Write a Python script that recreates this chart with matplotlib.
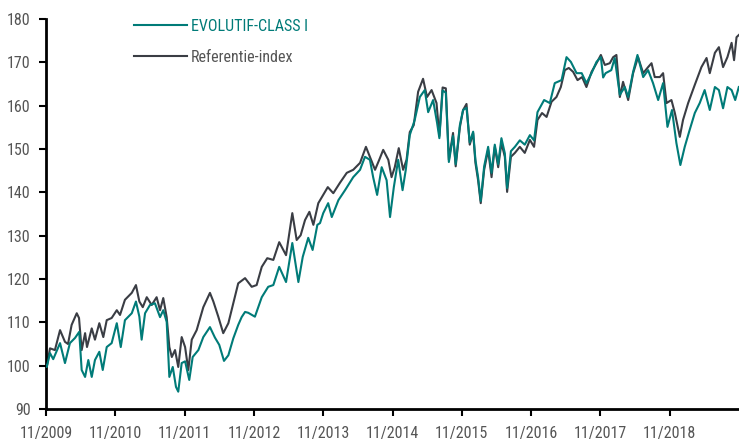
import numpy as np
import pandas as pd
import matplotlib
matplotlib.use("Agg")
import matplotlib.pyplot as plt
import matplotlib.dates as mdates
from matplotlib import font_manager

# referentie-index (donkergrijs)
ref_dates = [
    "2009-11-01", "2009-11-05", "2009-11-22", "2009-12-18", "2010-01-14", "2010-02-09", "2010-02-25",
    "2010-03-16", "2010-04-12", "2010-04-24", "2010-05-08", "2010-05-26", "2010-06-05",
    "2010-06-30", "2010-07-17", "2010-08-09", "2010-08-30", "2010-09-17", "2010-10-13",
    "2010-11-09", "2010-11-26", "2010-12-22", "2011-01-27", "2011-02-18", "2011-03-08",
    "2011-03-26", "2011-04-16", "2011-05-12", "2011-06-07", "2011-06-25", "2011-07-12",
    "2011-07-30", "2011-08-13", "2011-08-26", "2011-09-12", "2011-09-29", "2011-10-17",
    "2011-11-04", "2011-11-21", "2011-12-09", "2012-01-04", "2012-02-08", "2012-03-14",
    "2012-04-01", "2012-04-27", "2012-05-23", "2012-06-19", "2012-07-15", "2012-08-10",
    "2012-09-15", "2012-10-20", "2012-11-15", "2012-12-12", "2013-01-10", "2013-02-11",
    "2013-03-14", "2013-04-19", "2013-05-22", "2013-06-14", "2013-07-05", "2013-07-28",
    "2013-08-20", "2013-09-10", "2013-10-06", "2013-11-01", "2013-11-25", "2013-12-24",
    "2014-01-28", "2014-03-05", "2014-04-08", "2014-05-14", "2014-06-14", "2014-07-05",
    "2014-08-01", "2014-08-23", "2014-09-13", "2014-10-10", "2014-10-27", "2014-11-13",
    "2014-12-04", "2014-12-27", "2015-01-14", "2015-01-31", "2015-02-21", "2015-03-16",
    "2015-04-11", "2015-05-02", "2015-05-26", "2015-06-21", "2015-07-06", "2015-07-23",
    "2015-08-09", "2015-08-25", "2015-09-16", "2015-09-30", "2015-10-22", "2015-11-08",
    "2015-11-26", "2015-12-13", "2015-12-31", "2016-01-12", "2016-01-26", "2016-02-09",
    "2016-02-27", "2016-03-19", "2016-04-06", "2016-04-23", "2016-05-11", "2016-05-28",
    "2016-06-15", "2016-06-27", "2016-07-17", "2016-08-07", "2016-09-02", "2016-09-28",
    "2016-10-25", "2016-11-16", "2016-12-04", "2016-12-28", "2017-01-21", "2017-02-16",
    "2017-03-14", "2017-04-06", "2017-04-27", "2017-05-18", "2017-06-10", "2017-07-03",
    "2017-07-27", "2017-08-19", "2017-09-15", "2017-10-11", "2017-11-03", "2017-11-24",
    "2017-12-20", "2018-01-07", "2018-01-24", "2018-02-11", "2018-02-28", "2018-03-27",
    "2018-04-22", "2018-05-18", "2018-06-14", "2018-07-10", "2018-07-28", "2018-08-14",
    "2018-09-10", "2018-09-27", "2018-10-15", "2018-11-10", "2018-11-28", "2018-12-24",
    "2019-01-10", "2019-02-06", "2019-03-13", "2019-04-17", "2019-05-14", "2019-05-31",
    "2019-06-27", "2019-07-18", "2019-08-09", "2019-09-01", "2019-09-23", "2019-10-06",
    "2019-10-19", "2019-10-31",
]
ref_values = [
    100.0, 99.7, 104.0, 103.6, 108.2, 105.5, 105.0,
    109.4, 112.1, 111.0, 103.6, 107.5, 104.3,
    108.6, 106.0, 109.8, 106.6, 110.5, 111.0,
    112.8, 111.7, 115.2, 116.8, 118.6, 114.8,
    113.5, 115.8, 114.0, 115.8, 112.8, 115.6,
    111.2, 104.3, 102.0, 103.6, 99.7, 106.6,
    104.3, 99.0, 106.0, 108.2, 113.5, 116.8,
    114.8, 111.3, 107.5, 109.8, 114.4, 119.0,
    120.2, 118.2, 118.6, 122.8, 124.8, 124.4,
    128.5, 125.5, 135.2, 129.0, 130.1, 133.6,
    135.5, 132.5, 137.5, 139.4, 141.2, 139.8,
    142.2, 144.5, 145.2, 146.8, 150.5, 148.2,
    145.2, 147.5, 149.8, 147.5, 143.5, 145.8,
    150.2, 145.2, 147.5, 153.9, 155.5, 163.2,
    166.2, 162.0, 163.6, 160.6, 153.0, 164.2,
    164.0, 147.5, 153.7, 146.0, 155.0, 159.0,
    160.4, 151.0, 153.7, 146.8, 142.8, 137.5,
    145.2, 149.8, 143.5, 150.5, 145.8, 151.4,
    148.2, 140.1, 148.2, 149.1, 150.5, 149.1,
    152.1, 150.5, 156.7, 158.3, 157.4, 160.9,
    162.0, 164.3, 168.2, 168.7, 167.8, 165.9,
    166.6, 164.3, 167.8, 169.8, 171.7, 169.4,
    169.8, 171.2, 171.7, 162.0, 165.5, 161.3,
    167.5, 171.2, 167.5, 168.9, 169.8, 166.6,
    166.6, 167.5, 160.6, 161.3, 158.3, 152.8,
    156.7, 160.6, 164.8, 168.9, 171.0, 167.5,
    172.2, 173.5, 168.9, 171.2, 174.5, 170.5,
    175.8, 176.3,
]

# EVOLUTIF-CLASS I (teal)
fund_dates = [
    "2009-11-01", "2009-11-05", "2009-11-22", "2009-12-09", "2010-01-14", "2010-02-09", "2010-03-07",
    "2010-04-03", "2010-04-25", "2010-05-08", "2010-05-26", "2010-06-12", "2010-06-30",
    "2010-07-17", "2010-08-09", "2010-08-27", "2010-09-17", "2010-10-13", "2010-11-09",
    "2010-11-30", "2010-12-22", "2011-01-27", "2011-02-18", "2011-03-08", "2011-03-20",
    "2011-04-07", "2011-05-03", "2011-05-29", "2011-06-25", "2011-07-12", "2011-07-30",
    "2011-08-13", "2011-08-31", "2011-09-17", "2011-09-29", "2011-10-17", "2011-11-04",
    "2011-11-26", "2011-12-14", "2012-01-13", "2012-02-08", "2012-03-14", "2012-04-09",
    "2012-05-02", "2012-05-27", "2012-06-19", "2012-07-15", "2012-08-10", "2012-08-28",
    "2012-09-15", "2012-10-02", "2012-11-06", "2012-12-12", "2013-01-15", "2013-02-11",
    "2013-03-14", "2013-04-19", "2013-05-22", "2013-06-23", "2013-07-16", "2013-08-14",
    "2013-09-06", "2013-10-01", "2013-10-15", "2013-11-01", "2013-11-27", "2013-12-16",
    "2014-01-20", "2014-02-24", "2014-04-08", "2014-05-14", "2014-06-09", "2014-07-05",
    "2014-07-22", "2014-08-12", "2014-09-05", "2014-10-01", "2014-10-19", "2014-11-08",
    "2014-12-01", "2014-12-24", "2015-01-10", "2015-01-31", "2015-02-26", "2015-03-25",
    "2015-04-20", "2015-05-08", "2015-06-03", "2015-06-24", "2015-07-06", "2015-07-23",
    "2015-08-09", "2015-08-25", "2015-09-16", "2015-09-30", "2015-10-22", "2015-11-08",
    "2015-11-26", "2015-12-13", "2015-12-31", "2016-01-12", "2016-01-26", "2016-02-09",
    "2016-02-27", "2016-03-19", "2016-04-06", "2016-04-23", "2016-05-11", "2016-05-28",
    "2016-06-15", "2016-06-27", "2016-07-17", "2016-08-07", "2016-09-02", "2016-09-28",
    "2016-10-25", "2016-11-16", "2016-12-04", "2017-01-08", "2017-02-07", "2017-03-05",
    "2017-04-10", "2017-05-06", "2017-05-29", "2017-06-28", "2017-07-25", "2017-08-19",
    "2017-09-15", "2017-10-11", "2017-11-03", "2017-11-15", "2017-11-28", "2017-12-28",
    "2018-01-15", "2018-02-11", "2018-03-09", "2018-03-27", "2018-04-22", "2018-05-15",
    "2018-06-14", "2018-07-10", "2018-08-05", "2018-09-01", "2018-09-27", "2018-10-20",
    "2018-11-13", "2018-12-06", "2018-12-27", "2019-01-19", "2019-02-14", "2019-03-13",
    "2019-04-08", "2019-05-04", "2019-05-31", "2019-06-27", "2019-07-18", "2019-08-09",
    "2019-09-01", "2019-09-23", "2019-10-12", "2019-10-31",
]
fund_values = [
    100.0, 99.7, 102.9, 101.5, 105.2, 100.6, 105.2,
    106.4, 107.8, 99.0, 97.4, 101.3, 97.4,
    101.3, 103.2, 99.0, 104.3, 105.2, 109.8,
    104.3, 110.5, 112.1, 114.8, 111.3, 106.0,
    112.1, 114.0, 114.4, 111.2, 112.8, 110.1,
    97.4, 99.7, 95.1, 94.0, 100.6, 101.0,
    96.7, 102.0, 103.6, 106.6, 108.9, 106.5,
    104.8, 101.1, 102.4, 106.3, 109.4, 111.2,
    112.4, 112.2, 111.3, 115.8, 118.2, 118.6,
    122.8, 119.3, 128.3, 119.3, 125.1, 129.5,
    126.7, 132.5, 132.9, 135.2, 137.5, 134.3,
    138.2, 140.5, 143.5, 145.2, 148.2, 147.5,
    143.5, 139.4, 145.8, 142.8, 134.3, 141.2,
    147.5, 140.5, 145.2, 153.2, 156.7, 162.0,
    163.6, 158.5, 161.3, 156.0, 152.5, 163.5,
    163.0, 147.0, 153.0, 146.5, 155.5, 159.0,
    159.5, 151.5, 154.0, 147.5, 143.5, 138.0,
    146.0, 150.5, 144.5, 151.0, 146.5, 152.5,
    149.0, 141.0, 149.5, 150.5, 152.0, 151.0,
    153.2, 152.0, 158.5, 161.3, 160.6, 165.2,
    165.9, 171.2, 170.1, 167.5, 167.5, 165.2,
    167.5, 170.1, 171.2, 166.5, 167.5, 168.2,
    171.0, 162.5, 164.3, 162.0, 167.8, 171.7,
    166.6, 168.2, 165.2, 161.3, 165.2, 155.1,
    159.0, 151.4, 146.3, 150.5, 154.4, 158.3,
    160.6, 163.6, 159.0, 164.3, 163.6, 159.4,
    164.3, 163.6, 161.3, 164.3,
]

tick_years = list(range(2009, 2019))

teal = "#007b78"
grey = "#3a3d44"
label_grey = "#555555"

# smalle letter zoeken, in volgorde van voorkeur
voorkeur = ["robotocondensed", "roboto condensed", "opensans_condensed", "opensanscondensed",
            "open sans condensed", "liberationsansnarrow", "liberation sans narrow",
            "notosans-condensed", "noto sans condensed", "dejavusanscondensed", "condensed", "narrow"]
kandidaten = []
for f in font_manager.fontManager.ttflist:
    sleutel = (f.name + " " + f.fname.split("/")[-1]).lower()
    if f.style != "normal" or f.weight not in (400, "normal", "regular"):
        continue
    for rang, woord in enumerate(voorkeur):
        if woord in sleutel:
            kandidaten.append((rang, f))
            break

if kandidaten:
    kandidaten.sort(key=lambda t: t[0])
    gekozen = kandidaten[0][1]
    fp = font_manager.FontProperties(fname=gekozen.fname)
    plt.rcParams["font.family"] = [fp.get_name(), "DejaVu Sans"]
    if gekozen.stretch not in ("normal", 500):
        plt.rcParams["font.stretch"] = gekozen.stretch
    fsize = 11.5
else:
    plt.rcParams["font.family"] = ["Roboto", "DejaVu Sans"]
    fsize = 10.5

fig = plt.figure(figsize=(7.39, 4.42), dpi=100)
ax = fig.add_axes([46 / 739, 1 - 409 / 442, 1 - 46 / 739, (409 - 19) / 442])

ref_x = pd.to_datetime(ref_dates)
fund_x = pd.to_datetime(fund_dates)

ax.plot(fund_x, fund_values, color=teal, lw=1.5, label="EVOLUTIF-CLASS I", zorder=3)
ax.plot(ref_x, ref_values, color=grey, lw=1.5, label="Referentie-index", zorder=2)

ax.set_xlim(pd.Timestamp("2009-11-01"), pd.Timestamp("2019-11-01"))
ax.set_ylim(90, 180)
ax.set_yticks(np.arange(90, 181, 10))
ax.set_xticks([pd.Timestamp(f"{y}-11-01") for y in tick_years])
ax.xaxis.set_major_formatter(mdates.DateFormatter("%m/%Y"))

for s in ["top", "right"]:
    ax.spines[s].set_visible(False)
for s in ["left", "bottom"]:
    ax.spines[s].set_linewidth(2)
    ax.spines[s].set_color("black")

ax.tick_params(axis="both", direction="out", length=5, width=1.5, color="black",
               labelsize=fsize, labelcolor=label_grey)
ax.tick_params(axis="x", pad=7)
ax.tick_params(axis="y", pad=6)

leg = ax.legend(loc="upper left", bbox_to_anchor=(0.127, 1.0), frameon=False,
                borderaxespad=0, borderpad=0,
                handlelength=3.3, handletextpad=0.25, labelspacing=1.0, fontsize=fsize)
for txt, c in zip(leg.get_texts(), [teal, label_grey]):
    txt.set_color(c)
for line in leg.get_lines():
    line.set_linewidth(1.5)

fig.savefig("out.png", dpi=100)
